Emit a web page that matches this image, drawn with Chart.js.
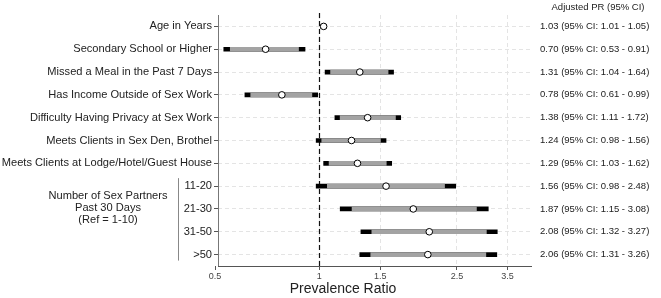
<!DOCTYPE html>
<html>
<head>
<meta charset="utf-8">
<script src="https://cdn.jsdelivr.net/npm/chart.js@4.4.1/dist/chart.umd.min.js"></script>
<style>
    html, body { margin: 0; padding: 0; background: #fff; }
    #wrap { width: 661px; height: 298px; }
</style>
</head>
<body>
<div id="wrap"><canvas id="forest" width="661" height="298"></canvas></div>
<script>
// 各列的標籤與數值（直接取自圖上的文字）
const rowLabels = [
    'Age in Years',
    'Secondary School or Higher',
    'Missed a Meal in the Past 7 Days',
    'Has Income Outside of Sex Work',
    'Difficulty Having Privacy at Sex Work',
    'Meets Clients in Sex Den, Brothel',
    'Meets Clients at Lodge/Hotel/Guest House',
    '11-20',
    '21-30',
    '31-50',
    '>50'
];
const prValues = [1.03, 0.70, 1.31, 0.78, 1.38, 1.24, 1.29, 1.56, 1.87, 2.08, 2.06];
const ciLower = [1.01, 0.53, 1.04, 0.61, 1.11, 0.98, 1.03, 0.98, 1.15, 1.32, 1.31];
const ciUpper = [1.05, 0.91, 1.64, 0.99, 1.72, 1.56, 1.62, 2.48, 3.08, 3.27, 3.26];
const xTicks = [0.5, 1, 1.5, 2.5, 3.5];

const groupTitle = ['Number of Sex Partners', 'Past 30 Days', '(Ref = 1-10)'];
const groupRows = ['11-20', '>50'];  // 分組括線的起訖列
const ciHeader = 'Adjusted PR (95% CI)';
const xTitle = 'Prevalence Ratio';

const FONT_FAMILY = '"Liberation Sans", Arial, Helvetica, sans-serif';
const CAP_SHARE = 0.08;  // 區間兩端黑色段佔整條（對數）寬度的比例

const ciText = prValues.map((v, i) =>
    `${v.toFixed(2)} (95% CI: ${ciLower[i].toFixed(2)} - ${ciUpper[i].toFixed(2)})`);

// 灰色內段：兩端各讓出 CAP_SHARE，露出底下的黑色端點
const innerRange = ciLower.map((lo, i) => {
    const ratio = ciUpper[i] / lo;
    return [lo * Math.pow(ratio, CAP_SHARE), ciUpper[i] / Math.pow(ratio, CAP_SHARE)];
});

const decorations = {
    id: 'decorations',
    beforeDatasetsDraw(chart) {
        const { ctx, chartArea, scales } = chart;
        ctx.save();
        // 座標軸實線（Chart.js 的 border 會套上格線的虛線，所以自己畫）
        ctx.lineWidth = 1;
        ctx.strokeStyle = '#777';
        ctx.beginPath();
        ctx.moveTo(chartArea.left + 0.5, chartArea.top);
        ctx.lineTo(chartArea.left + 0.5, chartArea.bottom);
        ctx.stroke();
        ctx.strokeStyle = '#555';
        ctx.beginPath();
        ctx.moveTo(chartArea.left, chartArea.bottom + 0.5);
        ctx.lineTo(chartArea.right, chartArea.bottom + 0.5);
        ctx.stroke();

        const x = Math.round(scales.x.getPixelForValue(1)) + 0.5;
        ctx.strokeStyle = '#111';
        ctx.lineWidth = 1.2;
        ctx.setLineDash([5, 3]);
        ctx.beginPath();
        ctx.moveTo(x, chartArea.top - 2);
        ctx.lineTo(x, chartArea.bottom);
        ctx.stroke();
        ctx.restore();
    },
    afterDraw(chart) {
        const { ctx, scales } = chart;
        const y = scales.y;
        ctx.save();
        ctx.fillStyle = '#222';
        ctx.textAlign = 'center';
        ctx.textBaseline = 'middle';

        ctx.font = `9.5px ${FONT_FAMILY}`;
        ctx.fillText(ciHeader, 598, 7);

        // 性伴侶數的分組標題與括線
        const top = y.getPixelForValue(rowLabels.indexOf(groupRows[0]));
        const bottom = y.getPixelForValue(rowLabels.indexOf(groupRows[1]));
        ctx.font = `11.1px ${FONT_FAMILY}`;
        groupTitle.forEach((line, i) => ctx.fillText(line, 108, 196 + i * 12));

        ctx.strokeStyle = '#888';
        ctx.lineWidth = 1;
        ctx.beginPath();
        ctx.moveTo(178.5, top - 8);
        ctx.lineTo(178.5, bottom + 6);
        ctx.stroke();

        ctx.font = `14px ${FONT_FAMILY}`;
        ctx.fillText(xTitle, 343, 289);
        ctx.restore();
    }
};

new Chart(document.getElementById('forest'), {
    type: 'bar',
    data: {
        labels: rowLabels,
        datasets: [
            {
                type: 'line',
                label: 'PR',
                data: rowLabels.map((label, i) => ({ x: prValues[i], y: label })),
                showLine: false,
                pointRadius: 3.3,
                pointBackgroundColor: '#fff',
                pointBorderColor: '#000',
                pointBorderWidth: 1,
                order: 0
            },
            {
                label: 'CI inner',
                data: innerRange,
                backgroundColor: '#a3a3a3',
                barThickness: 4,
                grouped: false,
                order: 1
            },
            {
                label: 'CI',
                data: ciLower.map((lo, i) => [lo, ciUpper[i]]),
                backgroundColor: '#000',
                barThickness: 4,
                grouped: false,
                order: 2
            }
        ]
    },
    options: {
        indexAxis: 'y',
        responsive: false,
        animation: false,
        layout: { padding: { top: 15 } },
        plugins: { legend: { display: false }, tooltip: { enabled: false } },
        scales: {
            x: {
                type: 'logarithmic',
                min: 0.51,
                max: 4.12,
                afterBuildTicks: (scale) => { scale.ticks = xTicks.map((value) => ({ value })); },
                afterFit: (scale) => { scale.height = 32; },
                ticks: {
                    callback: (value) => String(value),
                    autoSkip: false,
                    maxRotation: 0,
                    padding: 1,
                    color: '#444',
                    font: { family: FONT_FAMILY, size: 9 }
                },
                grid: {
                    // 0.5 落在左框線外，不畫格線只留刻度
                    color: (c) => (c.tick && c.tick.value === 0.5 ? 'rgba(0,0,0,0)' : '#e4e4e4'),
                    tickColor: '#555',
                    tickLength: 4,
                    tickBorderDash: []
                },
                border: { display: false, dash: [4, 3] }
            },
            y: {
                type: 'category',
                position: 'left',
                offset: true,
                afterFit: (scale) => { scale.width = 218; },
                ticks: {
                    autoSkip: false,
                    padding: 2,
                    color: '#222',
                    font: { family: FONT_FAMILY, size: 11.1 }
                },
                grid: {
                    offset: false,
                    color: '#e4e4e4',
                    tickColor: '#555',
                    tickLength: 4,
                    tickBorderDash: []
                },
                border: { display: false, dash: [4, 3] }
            },
            y2: {
                type: 'category',
                position: 'right',
                labels: ciText,
                offset: true,
                afterFit: (scale) => { scale.width = 129; },
                ticks: {
                    autoSkip: false,
                    padding: 8,
                    color: '#222',
                    font: { family: FONT_FAMILY, size: 9.5 }
                },
                grid: { display: false, drawTicks: false },
                border: { display: false }
            }
        }
    },
    plugins: [decorations]
});
</script>
</body>
</html>
